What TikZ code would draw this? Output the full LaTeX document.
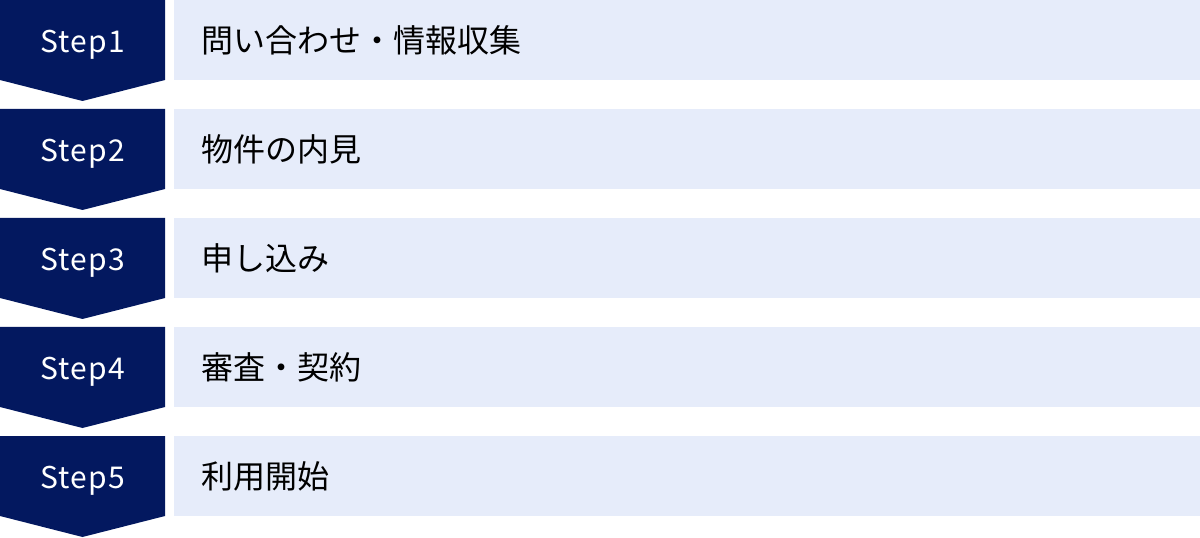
\documentclass[tikz,border=0pt]{standalone}
\usepackage{fontspec}
\setmainfont{Noto Sans CJK JP}
\definecolor{stepnavy}{HTML}{03185F}
\definecolor{stepbar}{HTML}{E6ECFA}
\tikzset{
  steplabel/.style={text=white,inner sep=0pt,anchor=base,font=\fontsize{22.5}{27}\selectfont\addfontfeature{LetterSpace=4}},
  barlabel/.style={text=black,inner sep=0pt,anchor=west,font=\fontsize{24}{29}\selectfont},
}
\begin{document}
\begin{tikzpicture}[x=0.75pt,y=-0.75pt]
\useasboundingbox (0,0) rectangle (1200,538);
\foreach \i/\txt in {1/問い合わせ・情報収集,2/物件の内見,3/申し込み,4/審査・契約,5/利用開始}{
  \pgfmathsetmacro\ytop{(\i-1)*109}
  \fill[stepnavy] (0,\ytop) -- (165,\ytop) -- (165,\ytop+80) -- (82.5,\ytop+101) -- (0,\ytop+80) -- cycle;
  \fill[stepbar] (174,\ytop) rectangle (1200,\ytop+80);
  \node[steplabel] (step\i) at (82.5,\ytop+52.5) {Step\i};
  \node[barlabel] (bar\i) at (201,\ytop+40) {\txt};
}
\end{tikzpicture}
\end{document}
